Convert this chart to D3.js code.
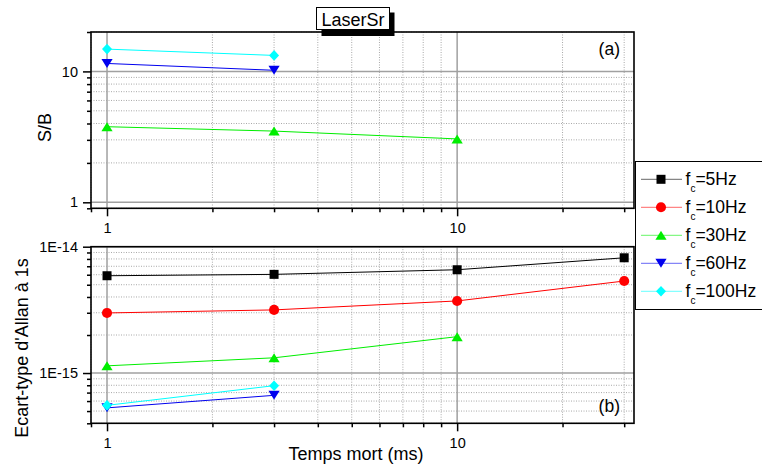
<!DOCTYPE html>
<html>
<head>
<meta charset="utf-8">
<script src="https://cdn.jsdelivr.net/npm/d3@7/dist/d3.min.js"></script>
<style>
  body { margin: 0; background: #fff; }
  svg { display: block; font-family: "Liberation Sans", Arial, sans-serif; }
</style>
</head>
<body>
<svg width="762" height="467"></svg>
<script>
// temps mort (ms) for each measurement
const tempsMort = [1, 3, 10, 30]
const seriesNames = ['5Hz', '10Hz', '30Hz', '60Hz', '100Hz']
const seriesColors = ['#000000', '#ff0000', '#00ee00', '#0000ee', '#00ffff']
const seriesShapes = ['square', 'circle', 'up', 'down', 'diamond']

// panel (a) : S/B
const sb5 = []
const sb10 = []
const sb30 = [3.78, 3.50, 3.05]
const sb60 = [11.5, 10.2]
const sb100 = [14.8, 13.25]

// panel (b) : Allan deviation at 1 s
const allan5 = [5.89e-15, 6.04e-15, 6.57e-15, 8.17e-15]
const allan10 = [2.99e-15, 3.16e-15, 3.72e-15, 5.35e-15]
const allan30 = [1.14e-15, 1.32e-15, 1.94e-15]
const allan60 = [5.3e-16, 6.66e-16]
const allan100 = [5.55e-16, 7.94e-16]

const xMajor = [1, 10]
const xLabels = ['1', '10']
const sbMajor = [1, 10]
const sbLabels = ['1', '10']
const allanMajor = [1e-15, 1e-14]
const allanLabels = ['1E-15', '1E-14']

const svg = d3.select('svg')
const left = 91, right = 634

const x = d3.scaleLog().domain([0.9, 32]).range([left, right])

const panels = [
    { y: d3.scaleLog().domain([0.9, 20]).range([208.3, 32]),
      values: [sb5, sb10, sb30, sb60, sb100], major: sbMajor, labels: sbLabels,
      tag: '(a)', tagY: 55, title: 'S/B', titleX: 50.5, titleY: 127.5 },
    { y: d3.scaleLog().domain([4e-16, 1e-14]).range([423.3, 246.7]),
      values: [allan5, allan10, allan30, allan60, allan100], major: allanMajor, labels: allanLabels,
      tag: '(b)', tagY: 412, title: "Ecart-type d'Allan à 1s", titleX: 27.5, titleY: 348 }
]

function marker(shape) {
    if (shape === 'square') return 'M-4.5,-4.5h9v9h-9Z'
    if (shape === 'circle') return d3.symbol(d3.symbolCircle, 80)()
    if (shape === 'up') return 'M0,-4.5L5.6,4.5L-5.6,4.5Z'
    if (shape === 'down') return 'M0,4.5L5.6,-4.5L-5.6,-4.5Z'
    return 'M0,-5.3L5,0L0,5.3L-5,0Z'
}

const isMajor = v => Math.abs(Math.log10(v) - Math.round(Math.log10(v))) < 1e-6

const xMinor = x.ticks().filter(v => !isMajor(v))

panels.forEach(p => {
    const [bottom, top] = p.y.range()
    const yMinor = p.y.ticks().filter(v => !isMajor(v))
    const g = svg.append('g')

    // grid
    const grid = g.append('g')
    grid.selectAll('.vmin').data(xMinor).join('line')
        .attr('x1', d => x(d)).attr('x2', d => x(d)).attr('y1', top).attr('y2', bottom)
        .attr('stroke', '#a8a8a8').attr('stroke-dasharray', '1,1.5')
    grid.selectAll('.hmin').data(yMinor).join('line')
        .attr('y1', d => p.y(d)).attr('y2', d => p.y(d)).attr('x1', left).attr('x2', right)
        .attr('stroke', '#a8a8a8').attr('stroke-dasharray', '1,1.5')
    grid.selectAll('.vmaj').data(xMajor).join('line')
        .attr('x1', d => x(d)).attr('x2', d => x(d)).attr('y1', top).attr('y2', bottom)
        .attr('stroke', '#a0a0a0').attr('stroke-width', 1.5)
    grid.selectAll('.hmaj').data(p.major).join('line')
        .attr('y1', d => p.y(d)).attr('y2', d => p.y(d)).attr('x1', left).attr('x2', right)
        .attr('stroke', '#a0a0a0').attr('stroke-width', 1.5)

    // series
    p.values.forEach((vals, i) => {
        const pts = vals.map((v, j) => [tempsMort[j], v])
        if (!pts.length) return
        g.append('path')
            .attr('d', d3.line().x(d => x(d[0])).y(d => p.y(d[1]))(pts))
            .attr('fill', 'none').attr('stroke', seriesColors[i]).attr('stroke-width', 1)
        g.selectAll(null).data(pts).join('path')
            .attr('d', marker(seriesShapes[i]))
            .attr('transform', d => `translate(${x(d[0])},${p.y(d[1])})`)
            .attr('fill', seriesColors[i])
    })

    // axes
    const axL = g.append('g').attr('transform', `translate(${left},0)`)
    axL.call(d3.axisLeft(p.y).tickValues(p.major).tickSize(8).tickPadding(5)
        .tickFormat(d => p.labels[p.major.indexOf(d)]))
    axL.append('g').call(d3.axisLeft(p.y).tickValues(yMinor).tickSize(4).tickFormat(''))
    const axB = g.append('g').attr('transform', `translate(0,${bottom})`)
    axB.call(d3.axisBottom(x).tickValues(xMajor).tickSize(8).tickPadding(6)
        .tickFormat(d => xLabels[xMajor.indexOf(d)]))
    axB.append('g').call(d3.axisBottom(x).tickValues(xMinor).tickSize(4).tickFormat(''))
    g.selectAll('.domain').remove()
    g.selectAll('.tick line').attr('stroke', '#000').attr('stroke-width', 1.5)
    g.selectAll('.tick text').attr('font-size', 14.5).attr('fill', '#000')
        .attr('font-family', '"Liberation Sans", Arial, sans-serif')

    // frame
    g.append('rect').attr('x', left).attr('y', top)
        .attr('width', right - left).attr('height', bottom - top)
        .attr('fill', 'none').attr('stroke', '#000').attr('stroke-width', 1.6)

    g.append('text').attr('x', 620).attr('y', p.tagY).attr('text-anchor', 'end')
        .attr('font-size', 17.5).text(p.tag)
    g.append('text')
        .attr('transform', `translate(${p.titleX},${p.titleY}) rotate(-90)`)
        .attr('text-anchor', 'middle').attr('font-size', 18).text(p.title)
})

// x axis title
svg.append('text').attr('x', 356).attr('y', 460).attr('text-anchor', 'middle')
    .attr('font-size', 18).text('Temps mort (ms)')

// title box with shadow
svg.append('rect').attr('x', 321.5).attr('y', 12.5).attr('width', 73).attr('height', 23.5).attr('fill', '#000')
svg.append('rect').attr('x', 316.5).attr('y', 7.5).attr('width', 73).attr('height', 22)
    .attr('fill', '#fff').attr('stroke', '#000').attr('stroke-width', 1)
svg.append('text').attr('x', 353).attr('y', 25.5).attr('text-anchor', 'middle')
    .attr('font-size', 18).text('LaserSr')

// legend
const legend = svg.append('g')
legend.append('rect').attr('x', 635.5).attr('y', 161.5).attr('width', 140).attr('height', 148)
    .attr('fill', '#fff').attr('stroke', '#000').attr('stroke-width', 1)
seriesNames.forEach((name, i) => {
    const cy = 179.3 + i * 28
    legend.append('line').attr('x1', 641).attr('x2', 682).attr('y1', cy).attr('y2', cy)
        .attr('stroke', seriesColors[i]).attr('stroke-opacity', 0.6)
    legend.append('path').attr('d', marker(seriesShapes[i]))
        .attr('transform', `translate(661,${cy})`).attr('fill', seriesColors[i])
    const t = legend.append('text').attr('x', 685.5).attr('y', cy + 6).attr('font-size', 17.5)
    t.append('tspan').text('f')
    t.append('tspan').attr('font-size', 10).attr('dy', 6.5).text('c')
    t.append('tspan').attr('dy', -6.5).text('=' + name)
})
</script>
</body>
</html>
